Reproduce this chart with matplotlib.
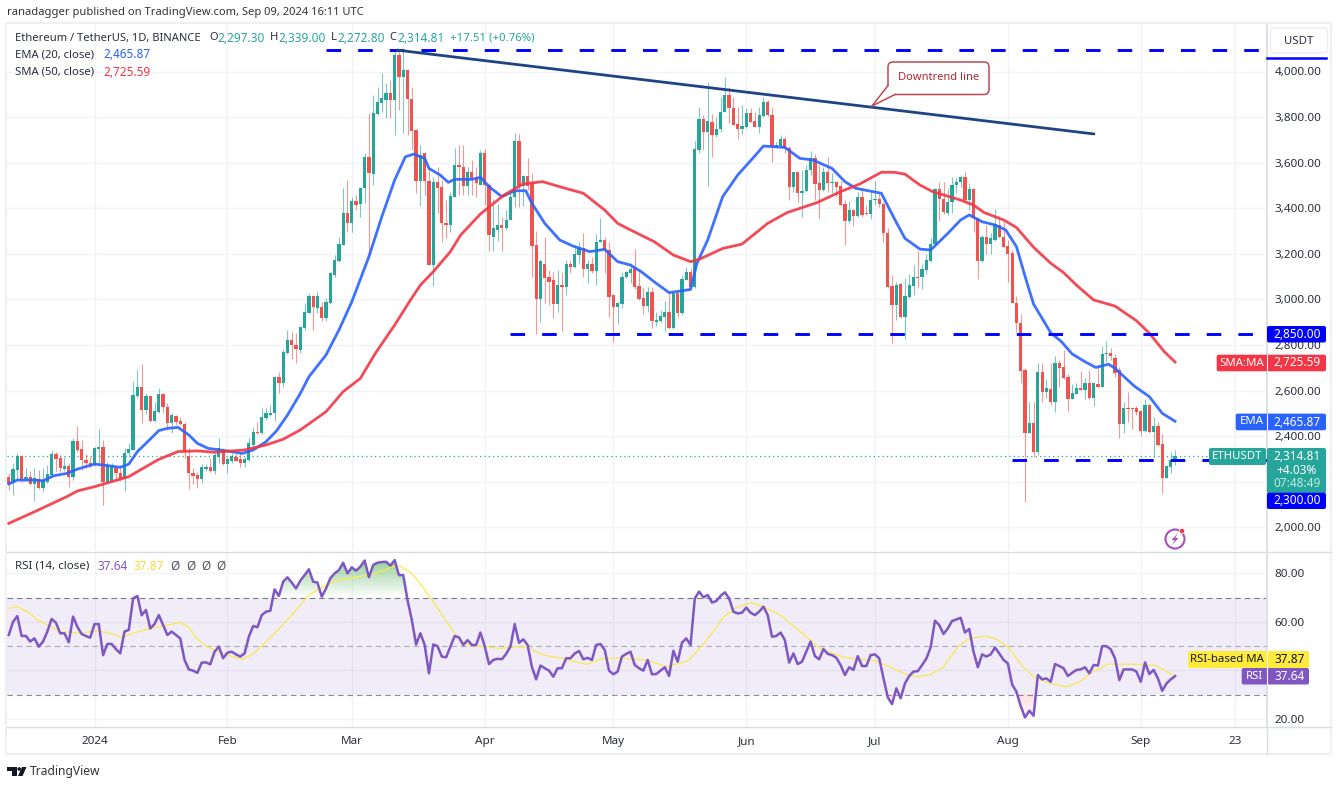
# ETH/USDT daily chart with EMA, SMA and RSI pane
import numpy as np
import matplotlib
matplotlib.use('Agg')
import matplotlib.pyplot as plt
from matplotlib.patches import FancyBboxPatch, Polygon, Circle, Rectangle
from matplotlib.path import Path

plt.rcParams['font.family'] = ['Noto Sans', 'DejaVu Sans']

first_day = -20  # days relative to 1 Jan 2024

opens = [2220,2201,2252,2313,2211,2223,2191,2211,2172,2201,
         2230,2321,2306,2255,2270,2223,2378,2343,2296,2285,
         2274,2343,2354,2201,2204,2262,2237,2211,2325,2340,
         2578,2615,2515,2577,2465,2508,2585,2530,2457,2489,
         2467,2454,2313,2237,2230,2214,2255,2264,2249,2310,
         2340,2278,2293,2310,2299,2281,2296,2362,2420,2413,
         2479,2493,2501,2658,2635,2767,2822,2800,2778,2873,
         2942,3015,2961,2968,2917,2986,3108,3170,3239,3378,
         3337,3432,3420,3487,3626,3550,3813,3863,3875,3904,
         3875,4072,3974,4006,3879,3743,3520,3644,3520,3151,
         3517,3495,3337,3327,3451,3590,3582,3498,3561,3531,
         3502,3644,3502,3276,3305,3327,3312,3349,3451,3695,
         3498,3543,3510,3239,3001,3156,3100,3085,2979,3064,
         3053,3156,3144,3195,3224,3132,3156,3126,3254,3261,
         3217,3020,2969,2980,3097,3115,3137,3059,3005,2971,
         3034,2903,2907,2925,2947,2874,3030,2939,3085,3119,
         3056,3656,3790,3736,3780,3721,3746,3824,3897,3841,
         3770,3746,3758,3816,3783,3758,3806,3865,3809,3667,
         3673,3702,3663,3495,3561,3466,3477,3568,3619,3510,
         3480,3561,3510,3517,3498,3419,3346,3392,3366,3451,
         3381,3375,3436,3439,3419,3293,3059,2976,3068,2925,
         3012,3060,3100,3097,3129,3170,3243,3483,3441,3378,
         3429,3500,3517,3536,3436,3483,3356,3170,3273,3243,
         3261,3327,3275,3235,3202,2986,2898,2691,2416,2460,
         2332,2683,2596,2606,2552,2720,2702,2661,2565,2585,
         2613,2605,2632,2566,2629,2618,2761,2767,2745,2690,
         2454,2525,2525,2525,2512,2423,2537,2420,2445,2365,
         2218,2267,2297.30]

closes = [2190,2255,2313,2208,2223,2191,2216,2172,2208,2235,
          2321,2300,2259,2270,2223,2378,2340,2296,2281,2271,
          2350,2354,2201,2270,2270,2237,2211,2325,2344,2581,
          2615,2515,2577,2465,2512,2585,2527,2460,2493,2464,
          2454,2333,2237,2226,2214,2264,2264,2249,2318,2347,
          2278,2300,2313,2293,2284,2299,2369,2420,2413,2486,
          2501,2504,2658,2635,2771,2822,2800,2781,2881,2944,
          3015,2966,3015,2917,2990,3115,3173,3242,3378,3337,
          3432,3414,3487,3626,3553,3816,3868,3882,3904,3875,
          4072,3977,4006,3879,3740,3520,3634,3520,3151,3517,
          3488,3334,3327,3454,3590,3582,3498,3561,3531,3510,
          3644,3502,3283,3312,3327,3312,3349,3451,3695,3498,
          3543,3498,3235,3001,3169,3093,3078,2979,3064,3053,
          3156,3144,3200,3224,3132,3156,3126,3254,3261,3217,
          3009,2969,2983,3100,3119,3132,3056,3001,2971,3034,
          2907,2910,2928,2947,2874,3030,2942,3088,3119,3056,
          3659,3790,3736,3783,3721,3746,3824,3897,3841,3765,
          3746,3761,3816,3780,3758,3809,3868,3809,3673,3678,
          3702,3663,3495,3561,3466,3477,3568,3619,3507,3480,
          3561,3510,3517,3495,3414,3346,3392,3366,3451,3371,
          3375,3436,3439,3419,3293,3053,2976,3063,2925,3017,
          3063,3100,3093,3132,3173,3243,3483,3441,3382,3429,
          3502,3517,3539,3436,3483,3356,3170,3273,3243,3268,
          3331,3273,3232,3200,2986,2898,2688,2416,2460,2332,
          2683,2596,2610,2552,2720,2698,2657,2565,2588,2613,
          2605,2632,2566,2632,2618,2761,2767,2750,2679,2454,
          2525,2521,2521,2508,2423,2537,2420,2445,2362,2218,
          2270,2296,2314.81]

highs = [2240,2281,2328,2318,2259,2246,2259,2252,2262,2274,
         2340,2330,2318,2311,2281,2391,2445,2384,2322,2311,
         2354,2430,2384,2289,2285,2270,2274,2347,2369,2643,
         2690,2715,2588,2577,2549,2610,2588,2547,2503,2493,
         2483,2464,2350,2259,2242,2278,2277,2303,2325,2391,
         2347,2310,2325,2321,2325,2310,2391,2442,2464,2523,
         2523,2537,2664,2683,2781,2866,2859,2851,2884,2983,
         3030,3020,3034,2990,3005,3122,3195,3275,3488,3524,
         3451,3458,3495,3641,3819,3897,3930,3992,3948,3963,
         4100,4095,4094,4010,3933,3746,3678,3648,3575,3536,
         3583,3524,3436,3473,3666,3678,3678,3580,3610,3583,
         3657,3660,3510,3441,3420,3360,3393,3466,3729,3726,
         3545,3619,3553,3302,3173,3275,3129,3122,3129,3122,
         3173,3173,3239,3253,3293,3173,3188,3287,3356,3276,
         3250,3023,2990,3122,3125,3158,3220,3129,3049,3053,
         3053,2947,2954,2995,3027,3034,3034,3107,3144,3137,
         3697,3843,3809,3951,3813,3802,3887,3977,3930,3890,
         3846,3853,3838,3838,3824,3846,3887,3875,3846,3692,
         3721,3711,3673,3561,3561,3568,3590,3653,3638,3590,
         3583,3626,3553,3520,3520,3436,3433,3395,3473,3488,
         3414,3473,3521,3473,3429,3312,3107,3078,3074,3093,
         3112,3151,3214,3156,3200,3268,3488,3517,3517,3487,
         3539,3539,3546,3561,3509,3487,3363,3283,3327,3290,
         3395,3368,3341,3261,3217,3015,2936,2698,2552,2552,
         2723,2720,2650,2720,2752,2734,2778,2673,2629,2632,
         2688,2654,2691,2635,2712,2796,2819,2786,2761,2705,
         2552,2594,2530,2533,2515,2562,2541,2486,2464,2409,
         2275,2332,2339.00]

lows = [2164,2142,2211,2201,2208,2186,2116,2170,2157,2194,
        2223,2249,2245,2249,2176,2208,2333,2252,2267,2260,
        2271,2281,2098,2194,2200,2208,2205,2161,2310,2340,
        2566,2457,2496,2464,2464,2504,2504,2428,2413,2450,
        2450,2303,2167,2191,2172,2194,2249,2245,2233,2281,
        2274,2240,2281,2292,2267,2267,2293,2354,2410,2410,
        2471,2489,2468,2591,2618,2761,2737,2720,2764,2866,
        2939,2866,2939,2907,2907,2980,3100,3165,3238,3297,
        3297,3392,3360,3422,3195,3502,3809,3823,3795,3795,
        3721,3831,3729,3721,3656,3469,3410,3458,3151,3059,
        3378,3254,3268,3298,3451,3458,3458,3458,3460,3448,
        3500,3414,3212,3212,3255,3212,3305,3349,3407,3407,
        3411,3480,3100,2849,2903,2983,2976,2917,2947,2863,
        3020,3115,3137,3158,3100,3071,3115,3064,3254,3115,
        2922,2815,2893,2961,3093,3071,3044,2998,2936,2947,
        2873,2884,2903,2863,2869,2869,2925,2932,3085,3044,
        3049,3641,3656,3498,3626,3711,3736,3824,3773,3765,
        3704,3726,3751,3778,3758,3732,3802,3805,3604,3663,
        3667,3644,3436,3473,3429,3363,3473,3546,3436,3356,
        3477,3473,3466,3448,3411,3239,3334,3322,3363,3363,
        3371,3352,3414,3407,3254,3050,2811,2910,2917,2825,
        3005,3020,3049,3045,3112,3166,3239,3346,3377,3370,
        3378,3466,3495,3433,3392,3297,3088,3166,3199,3199,
        3258,3268,3228,3078,2983,2859,2632,2113,2413,2310,
        2318,2552,2570,2537,2508,2615,2650,2512,2562,2584,
        2605,2562,2562,2533,2615,2615,2727,2735,2662,2391,
        2416,2464,2430,2493,2401,2420,2413,2311,2357,2150,
        2215,2240,2272.80]

ema_days = [-20,-18,-14,-12,-9.5,-6.5,-4,0,2,6,8,10,12,15,17,19.5,22,24,26.5,30.5,34.5,37,40,42.5,45,48,50,54,57,60,
            64,67,70,72.5,74.5,77,78,80.6,82.5,84,88,90,92,95,98,100.6,102,105,108.5,111.5,115.5,119,122,125,127.5,
            130.5,134,139,140.5,143,146.5,150,153.5,156,161,164.5,167.5,172,175,177.5,181,183.5,186.5,189,192.5,195,
            199,202,204,207,210,212.5,215,217.5,219,223,225.5,228,231,233.5,236.5,238,242.5,246,249,252]
ema_vals = [2191,2208,2208,2205,2227,2237,2256,2278,2274,2264,2278,2333,2369,2425,2435,2439,2406,2369,2347,2337,2325,2340,2376,2425,2493,2588,2661,2757,2866,2990,
            3188,3363,3524,3626,3638,3619,3575,3546,3514,3527,3527,3536,3495,3451,3477,3477,3422,3334,3261,3235,3210,3220,3166,3151,3122,
            3078,3030,3044,3159,3261,3451,3546,3619,3673,3667,3619,3612,3575,3517,3488,3475,3466,3356,3268,3221,3217,
            3290,3349,3371,3341,3327,3305,3232,3071,2980,2854,2815,2761,2727,2702,2716,2698,2620,2574,2501,2465.87]

sma_days = [-20,-14,-6.5,-4,0,8,10,15,19.5,24,28,35,40,44,48,54,58,62,65.5,70,73.7,76,79,83,85.4,90,95.5,100,104.5,109,114,119,
            122,125,130.5,135,139,141,146.5,151,157,161.5,168.5,174,178.5,183.5,186.5,189,192.5,195.5,202,205,207.5,212,
            215,219,223,226,229,233,238,243,246,249.5,252]
sma_vals = [2018,2069,2135,2160,2179,2223,2245,2299,2333,2336,2330,2340,2362,2387,2428,2508,2596,2654,2764,2888,2998,3063,3122,3210,3283,3375,3458,3507,3517,3492,3466,3392,
            3334,3305,3254,3195,3166,3176,3224,3243,3334,3381,3425,3473,3507,3558,3558,3550,3502,3473,3436,3414,3381,3349,
            3316,3229,3159,3118,3063,2998,2971,2907,2852,2771,2725.59]

rsi_vals = [54.6,60,62.4,54.2,54.2,51.9,53.2,49.8,51.9,56,
            61.2,59.7,55.3,55.3,51.6,62.2,58,55,54.2,53.5,
            59.1,59.1,46.3,50.9,50.9,48.8,47,56,56.7,69.7,
            70.7,62.8,64.9,57.3,59.1,62.8,58.7,54.6,56,54.6,
            53.2,44.3,40.4,39.9,39,43.2,43.3,42.5,47.7,49.8,
            45,47.3,47.7,46.6,45.7,47,53.9,58.3,57.8,62.8,
            64.2,64.6,73.4,70.7,76.6,78.4,76.2,73.8,77,79.3,
            81.7,76.6,76.2,70.4,73.8,78,80,81.4,84.4,80,
            82.5,81.1,82.8,85.3,78.4,83.5,84.4,84.7,84.8,83.2,
            85.5,79.3,79.3,69,60.8,50.7,55.3,50.5,38.8,50.7,
            50,45.7,45.4,49.8,54.2,53.6,50.5,52.5,50.5,50.5,
            55.6,50,42.6,44.3,44.8,44.6,46.8,49.8,59.1,51.4,
            52.8,50.5,41.5,36.3,42,40.9,39.9,37.4,40.9,40.9,
            45,45,47,48,44.6,45.2,44.3,50.5,50.9,48.4,
            39.9,38.4,39.5,45.7,46.8,47.7,42.2,40.9,39.9,44.3,
            38.4,38.5,39.9,41.3,37.7,48.1,43.6,51.4,53.2,50.5,
            69.7,72.5,70.1,71.1,68,68.6,70.7,72.2,69.7,64.2,
            63.5,63.8,65.9,63.8,62.8,64.2,66.3,62.8,53.9,54.2,
            55.6,52.5,43.2,47,42.6,43.6,47.7,51.9,45.9,44.6,
            48.8,46.8,46.3,45.2,42.2,38.1,41.3,40.2,45.9,41.8,
            41.8,46.3,46.6,45,36.7,28.9,26.1,32.6,28.5,34.6,
            37.7,39.5,39.7,42.2,44.9,49.5,60.5,58.7,55,57.3,
            60.4,61,61.7,55.6,57.1,47.7,41.3,46.6,45.7,46.6,
            49.4,47,44.3,42.9,34.2,31.2,25.3,20.6,23.4,21.3,
            38.1,36.3,36.7,35.3,42.6,41.8,40.9,37.7,39,40.2,
            40.4,41.3,38.8,42.2,42,50,50,48.7,44.9,36,
            40.4,40.4,40.4,39.5,35.3,43.3,38.5,40.2,36.7,31.6,
            34.6,36.3,37.64]

rsi_ma_days = [-20,-18,-15.6,-13,-10,-8,-3.4,0.5,3.6,6.3,9,12,16,20,22,23.8,26,30,34.5,37,42,46,50,54,57,61,65.5,69.5,71.3,74,76.5,79,83,
               85.2,87.6,91.5,94.5,98.4,101,104.6,109,114.8,118.6,123,128.8,133.4,138.5,142.8,146.8,149.9,153,156,160,164.6,169.2,174.7,181.7,
               185.5,188.6,191.7,194.8,197.9,201.4,204,208,210.4,213,216.2,219,222.8,226.7,229.8,232.9,236.4,243,247.6,250,252]
rsi_ma_vals = [65.6,66.3,64.2,60.5,58,56,55.3,56.4,55.3,53.6,55.3,56.9,58.3,59.8,57.8,53.2,50,46.8,44.6,46.8,55.3,62.8,71.1,75.2,77.3,78.4,80,82.8,83,80,74.5,68.3,57.8,
               52.5,50.2,49.8,49,49.8,49.5,46.3,45,42.5,45,45,44.3,41.5,44,52.5,62.2,66,68,66.3,62.8,56,49,45.4,44,
               41.5,38.8,37.4,38.1,41.3,49.8,53.2,54.2,52.8,49.8,42.2,37.4,34.6,33.3,35.3,39.5,42.6,42.5,42,39.5,37.87]

month_days = [0, 31, 60, 91, 121, 152, 182, 213, 244, 266]
month_labels = ['2024', 'Feb', 'Mar', 'Apr', 'May', 'Jun', 'Jul', 'Aug', 'Sep', '23']

price_ticks = list(range(2000, 4200, 200))
rsi_ticks = [20, 40, 60, 80]
# these two scale labels sit under the tags in the picture
hidden_price_ticks = [2200]
hidden_rsi_ticks = [40]

# horizontal levels: price, first day drawn
level_prices = [4094, 2850, 2296]
level_starts = [54, 96.8, 214]
trend_days = [70.5, 233.1]
trend_prices = [4094, 3726]

up_color = '#26a69a'
down_color = '#ef5350'
ema_color = '#2962ff'
sma_color = '#f23645'
rsi_color = '#7e57c2'
ma_color = '#fde84f'
level_color = '#0000ff'
grid_color = '#f2f3f6'
axis_color = '#dadce3'
text_color = '#2a2e39'

W, H = 1338, 786
L, R = 7.0, 1266.5
main_top, main_bot = 24.0, 551.0
rsi_top, rsi_bot = 552.0, 727.0

fig = plt.figure(figsize=(W / 100, H / 100), dpi=100, facecolor='white')


def rect(left, top, right, bottom):
    return [left / W, 1 - bottom / H, (right - left) / W, (bottom - top) / H]


def x_lim():
    return [(L - 94.5) / 4.288, (R - 94.5) / 4.288]


ax = fig.add_axes(rect(L, main_top, R, main_bot))
ax_rsi = fig.add_axes(rect(L, rsi_top, R, rsi_bot))

days = np.arange(first_day, first_day + len(closes))
opens_a = np.array(opens)
closes_a = np.array(closes)
colors = np.where(closes_a >= opens_a, up_color, down_color)

for a in (ax, ax_rsi):
    a.set_xlim(x_lim())
    a.set_xticks(month_days)
    a.grid(True, color=grid_color, lw=1.0)
    a.set_axisbelow(True)
    a.yaxis.tick_right()
    for s in ('top', 'left', 'bottom'):
        a.spines[s].set_visible(False)
    a.spines['right'].set_color(axis_color)
    a.spines['right'].set_linewidth(1.2)
    a.tick_params(length=0, labelcolor=text_color, labelsize=8.4, pad=6)

# price pane
ax.set_ylim(4000 - (main_bot - 71.5) * 4.386, 4000 - (main_top - 71.5) * 4.386)
ax.set_yticks(price_ticks)
ax.set_yticklabels(['' if p in hidden_price_ticks else '{:,.2f}'.format(p) for p in price_ticks])
ax.tick_params(labelbottom=False)

ax.axhline(closes[-1], color=up_color, lw=0.9, ls=(0, (1, 2.5)), zorder=1.5)
ax.vlines(days, lows, highs, colors=colors, lw=0.8, alpha=0.6, zorder=2)
ax.bar(days, closes_a - opens_a, bottom=opens_a, width=0.76, color=colors, lw=0, zorder=3)
ax.plot(ema_days, ema_vals, color=ema_color, lw=2.0, alpha=0.9, zorder=4, solid_joinstyle='round')
ax.plot(sma_days, sma_vals, color=sma_color, lw=2.0, alpha=0.9, zorder=4, solid_joinstyle='round')

for price, start in zip(level_prices, level_starts):
    ax.hlines(price, start, x_lim()[1], color=level_color, lw=2.1, linestyles=[(0, (5.0, 5.85))], zorder=5)
ax.plot(trend_days, trend_prices, color='#1f4485', lw=2.0, zorder=5, solid_capstyle='round')

# RSI pane
rsi_ylim = (80 - (rsi_bot - 573.4) * 20 / 48.5, 80 - (rsi_top - 573.4) * 20 / 48.5)
ax_rsi.set_ylim(rsi_ylim)
ax_rsi.set_yticks(rsi_ticks)
ax_rsi.set_yticklabels(['' if v in hidden_rsi_ticks else '{:.2f}'.format(v) for v in rsi_ticks])
ax_rsi.set_xticklabels(month_labels)
for lab in ax_rsi.get_xticklabels():
    lab.set_color(text_color)
    if lab.get_text() == '2024':
        lab.set_fontweight('bold')
ax_rsi.tick_params(axis='x', pad=6.5)

ax_rsi.axhspan(30, 70, color=rsi_color, alpha=0.11, lw=0, zorder=1)
for level, shade in zip([70, 50, 30], ['#787b86', '#a9abb3', '#8a8c96']):
    ax_rsi.axhline(level, color=shade, lw=0.8, ls=(0, (5, 3.5)), zorder=1.5)

rsi_a = np.array(rsi_vals)
xlim_r = ax_rsi.get_xlim()
# gradient fills beyond the 70 and 30 lines, clipped to the RSI excursions
grad_up = np.zeros((64, 2, 4))
grad_up[..., :3] = matplotlib.colors.to_rgb('#4caf50')
grad_up[..., 3] = np.linspace(0.6, 0.0, 64)[:, None]
grad_dn = np.zeros((64, 2, 4))
grad_dn[..., :3] = matplotlib.colors.to_rgb('#f44336')
grad_dn[..., 3] = np.linspace(0.16, 0.02, 64)[:, None]
for grad, base, far, mask in ((grad_up, 70, 86, rsi_a > 70), (grad_dn, 30, 20, rsi_a < 30)):
    poly = ax_rsi.fill_between(days, rsi_a, base, where=mask, interpolate=True, color='none', lw=0)
    clip = Path.make_compound_path(*poly.get_paths())
    im = ax_rsi.imshow(grad, extent=[xlim_r[0], xlim_r[1], min(base, far), max(base, far)],
                       aspect='auto', origin='upper', zorder=1.6)
    im.set_clip_path(clip, transform=ax_rsi.transData)
ax_rsi.set_xlim(xlim_r)
ax_rsi.set_ylim(rsi_ylim)

ax_rsi.plot(rsi_ma_days, rsi_ma_vals, color=ma_color, lw=0.9, zorder=3)
ax_rsi.plot(days, rsi_vals, color=rsi_color, lw=1.8, zorder=4, solid_joinstyle='round')

# overlay in pixels for the frame, tags and legend
ov = fig.add_axes([0, 0, 1, 1], zorder=10)
ov.set_xlim(0, W)
ov.set_ylim(H, 0)
ov.axis('off')
ov.patch.set_alpha(0)

ov.add_patch(Rectangle((L - 1, main_top - 1), 1331 - L + 1, 754 - main_top + 1, fill=False, ec='#eef0f4', lw=1.6))
ov.plot([L, 1331], [551.5, 551.5], color=axis_color, lw=1.0)
ov.plot([L, 1331], [727, 727], color=axis_color, lw=1.0)
ov.plot([R, R], [727, 754], color=axis_color, lw=1.0)


def txt(x, y, s, color=text_color, size=8.5, ha='left', **kw):
    ov.text(x, y, s, color=color, fontsize=size, ha=ha, va='center', **kw)


def tag(x0, y0, x1, y1, color, alpha=1.0):
    ov.add_patch(FancyBboxPatch((x0, y0), x1 - x0, y1 - y0, boxstyle='round,pad=0,rounding_size=2',
                                fc=color, ec='none', alpha=alpha))


txt(7, 12, 'ranadagger published on TradingView.com, Sep 09, 2024 16:11 UTC', color='#333333', size=8.05)

txt(15, 38, 'Ethereum / TetherUS, 1D, BINANCE', size=8.05)
for lx, vx, letter, val in ((209, 217, 'O', '2,297.30'), (270, 278, 'H', '2,339.00'),
                            (331, 337, 'L', '2,272.80'), (389, 397, 'C', '2,314.81')):
    txt(lx, 38, letter, size=8.0)
    txt(vx, 38, val, color=up_color)
txt(450, 38, '+17.51 (+0.76%)', color=up_color, size=8.2)
txt(15, 55, 'EMA (20, close)', size=8.1)
txt(103, 55, '2,465.87', color=ema_color)
txt(15, 72, 'SMA (50, close)', size=8.1)
txt(103, 72, '2,725.59', color=sma_color)

txt(15, 566, 'RSI (14, close)', size=8.3)
txt(97.5, 566, '37.64', color=rsi_color)
txt(133.5, 566, '37.87', color='#f5d83c')
for gx in (170, 186, 201, 216):
    txt(gx, 566, 'Ø', color='#50535e')

# USDT button and the cut top level label
ov.add_patch(FancyBboxPatch((1270.5, 28), 57, 25, boxstyle='round,pad=0,rounding_size=4', fc='white', ec='#eef0f4', lw=1.2))
txt(1299, 41, 'USDT', ha='center', size=8.2)
ov.plot([1267, 1326], [57.7, 57.7], color=level_color, lw=1.8)

# tags on the price scale
tag(1267, 326, 1326, 342.5, level_color)
txt(1297, 334, '2,850.00', color='white', ha='center')
tag(1216.7, 354.7, 1326, 371.3, sma_color)
txt(1241.5, 363, 'SMA:MA', color='white', ha='center', size=8.2)
txt(1297, 363, '2,725.59', color='white', ha='center')
tag(1235.7, 413.6, 1326, 430.3, ema_color)
txt(1251.5, 422, 'EMA', color='white', ha='center', size=8.2)
txt(1297, 422, '2,465.87', color='white', ha='center')
tag(1209, 448, 1266, 465, up_color)
txt(1237.5, 456.5, 'ETHUSDT', color='white', ha='center', size=8.2)
tag(1267, 448, 1326, 493.5, up_color)
txt(1297, 456.5, '2,314.81', color='white', ha='center')
txt(1297, 470, '+4.03%', color='white', ha='center')
txt(1297, 483.5, '07:48:49', color='#c3e6e2', ha='center')
tag(1267, 492.7, 1326, 509, level_color)
txt(1297, 500.5, '2,300.00', color='white', ha='center')

# tags on the RSI scale
tag(1188, 651, 1309, 668, '#ffeb3b')
txt(1227, 659.5, 'RSI-based MA', color='#131722', ha='center', size=8.2)
txt(1290, 659.5, '37.87', color='#131722', ha='center')
tag(1241.7, 668, 1309, 684.5, rsi_color)
txt(1254.5, 676.5, 'RSI', color='white', ha='center', size=8.2)
txt(1290, 676.5, '37.64', color='white', ha='center')
for y0, y1 in ((354.7, 371.3), (413.6, 430.3), (651, 668), (668, 684.5)):
    ov.plot([R, R], [y0, y1], color='white', lw=0.8)

# callout on the downtrend line
call_edge = '#b84a52'
ov.add_patch(FancyBboxPatch((888, 62), 101, 32.5, boxstyle='round,pad=0,rounding_size=5', fc='white', ec=call_edge, lw=1.1))
ov.add_patch(Polygon([(872, 106), (888, 85.5), (895, 94.5)], closed=True, fc='white', ec='none', zorder=3))
ov.plot([872, 888], [106, 85.5], color=call_edge, lw=1.1, zorder=4)
ov.plot([872, 895], [106, 94.5], color=call_edge, lw=1.1, zorder=4)
txt(938.5, 78, 'Downtrend line', color='#b22833', ha='center', size=8.0)

# bolt badge
ov.add_patch(Circle((1175, 539), 9.5, fc='white', ec='#a64fc0', lw=1.5))
ov.add_patch(Polygon([(1178, 533), (1171.5, 540), (1174.8, 540), (1172, 545), (1178.5, 538), (1175.2, 538)], closed=True, fc='#a64fc0', ec='none'))
ov.add_patch(Circle((1182, 531), 2.6, fc='#f23645', ec='white', lw=0.5))

# TradingView mark
logo = '#131722'
ov.add_patch(Polygon([(7, 767), (17, 767), (17, 776), (12, 776), (12, 770.5), (7, 770.5)], closed=True, fc=logo, ec='none'))
ov.add_patch(Circle((19.2, 769), 1.8, fc=logo, ec='none'))
ov.add_patch(Polygon([(22, 767), (26.5, 767), (22.5, 776), (18, 776)], closed=True, fc=logo, ec='none'))
txt(30, 772, 'TradingView', color='#333333', size=8.7)

fig.savefig('out.png', dpi=100)
